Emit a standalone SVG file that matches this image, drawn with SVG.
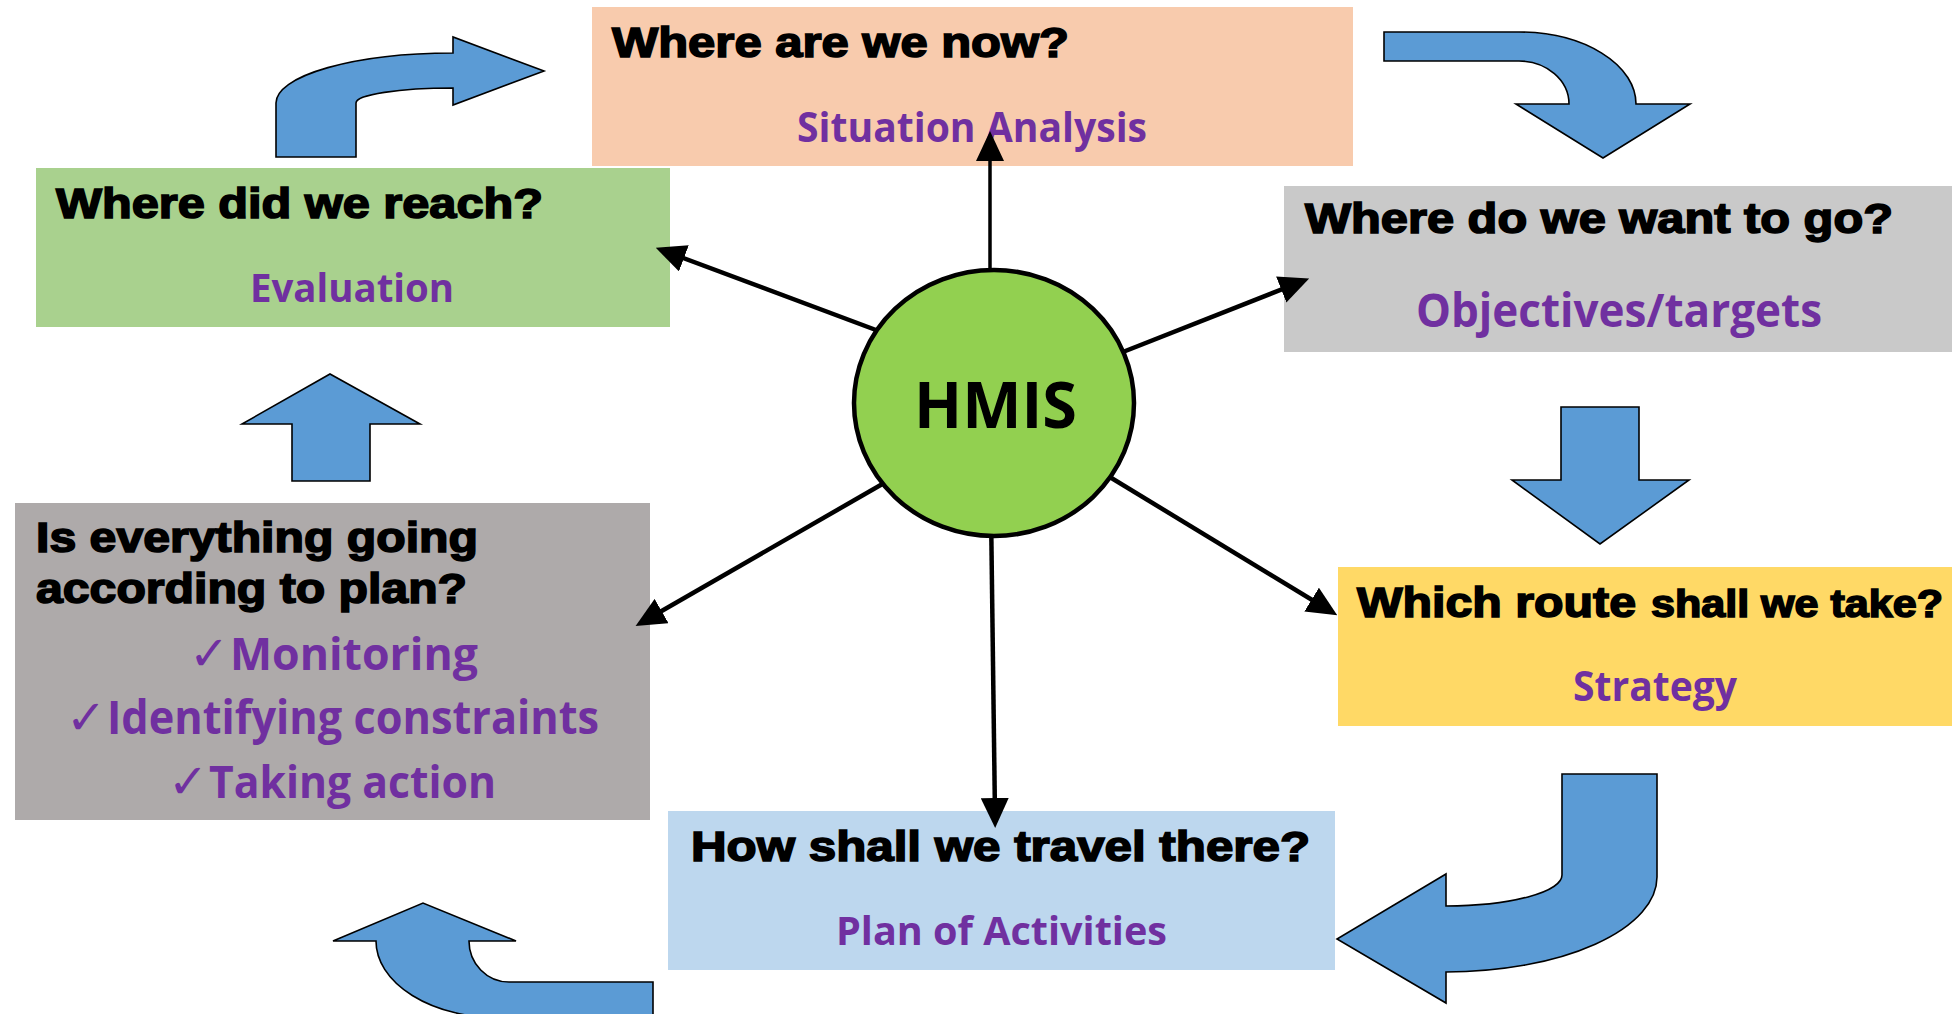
<svg xmlns="http://www.w3.org/2000/svg" width="1952" height="1014" viewBox="0 0 1952 1014">
<style>
.t{font-family:"Liberation Sans",Arial,sans-serif;font-weight:700;font-size:42px;fill:#000;stroke:#000;stroke-width:1.6}
.p{font-family:"Open Sans","Noto Sans",sans-serif;font-weight:700;fill:#7030A0}
.ck{font-family:"DejaVu Sans",sans-serif;font-weight:400;fill:#7030A0}
.blk{fill:#5B9BD5;stroke:#000;stroke-width:1.6;stroke-linejoin:miter}
.con{stroke:#000;stroke-width:4.5;fill:none;marker-end:url(#ah)}
</style>
<defs>
<marker id="ah" markerUnits="userSpaceOnUse" viewBox="0 0 30 28" refX="18" refY="14" markerWidth="30" markerHeight="28" orient="auto">
<path d="M0,0 L30,14 L0,28 Z" fill="#000"/>
</marker>
</defs>

<g id="flow-arrows">
<path class="blk" d="M276,157 V103 A177,50 0 0 1 453,53 V37 L544,71 L453,105 V88 A97,15 0 0 0 356,103 V157 Z"/>
<path class="blk" d="M1384,32 H1519 A117,72 0 0 1 1636,104 H1690 L1603,158 L1516,104 H1569 A50,43 0 0 0 1519,61 H1384 Z"/>
<path class="blk" d="M1561,407 H1639 V480 H1689 L1600,544 L1512,480 H1561 Z"/>
<path class="blk" d="M1562,774 H1657 V877 A211,95 0 0 1 1446,972 V1003 L1337,939 L1446,874 V906 A116,31 0 0 0 1562,875 Z"/>
<path class="blk" d="M653,1018 H500 A124,77 0 0 1 376,941 H333 L423,903 L516,941 H469 A40,41 0 0 0 509,982 H653 Z"/>
<path class="blk" d="M292,481 V424 H242 L330,374 L420,424 H370 V481 Z"/>
</g>

<g id="node-now">
<rect x="592" y="7" width="761" height="159" fill="#F8CBAD"/>
<text class="t" x="612" y="57" textLength="457" lengthAdjust="spacingAndGlyphs">Where are we now?</text>
<text class="p" x="797" y="142" font-size="42" textLength="350" lengthAdjust="spacingAndGlyphs">Situation Analysis</text>
</g>

<g id="node-reach">
<rect x="36" y="168" width="634" height="159" fill="#A9D18E"/>
<text class="t" x="56" y="218" textLength="487" lengthAdjust="spacingAndGlyphs">Where did we reach?</text>
<text class="p" x="250" y="302" font-size="40" textLength="204" lengthAdjust="spacingAndGlyphs">Evaluation</text>
</g>

<g id="node-go">
<rect x="1284" y="186" width="668" height="166" fill="#C9C9C9"/>
<text class="t" x="1305" y="233" textLength="588" lengthAdjust="spacingAndGlyphs">Where do we want to go?</text>
<text class="p" x="1416" y="327" font-size="47" textLength="406" lengthAdjust="spacingAndGlyphs">Objectives/targets</text>
</g>

<g id="node-route">
<rect x="1338" y="567" width="614" height="159" fill="#FFD966"/>
<text class="t" x="1357" y="617"><tspan textLength="279" lengthAdjust="spacingAndGlyphs">Which route</tspan><tspan x="1651" font-size="38" textLength="292" lengthAdjust="spacingAndGlyphs">shall we take?</tspan></text>
<text class="p" x="1573" y="701" font-size="42" textLength="164" lengthAdjust="spacingAndGlyphs">Strategy</text>
</g>

<g id="node-travel">
<rect x="668" y="811" width="667" height="159" fill="#BDD7EE"/>
<text class="t" x="691" y="861" textLength="619" lengthAdjust="spacingAndGlyphs">How shall we travel there?</text>
<text class="p" x="836" y="945" font-size="40" textLength="331" lengthAdjust="spacingAndGlyphs">Plan of Activities</text>
</g>

<g id="node-plan">
<rect x="15" y="503" width="635" height="317" fill="#AEAAAA"/>
<text class="t" x="36" y="552" textLength="442" lengthAdjust="spacingAndGlyphs">Is everything going</text>
<text class="t" x="36" y="603" textLength="431" lengthAdjust="spacingAndGlyphs">according to plan?</text>
<text class="p" y="670" font-size="45"><tspan class="ck" x="189" font-size="48">✓</tspan><tspan x="230" textLength="248" lengthAdjust="spacingAndGlyphs">Monitoring</tspan></text>
<text class="p" y="734" font-size="46"><tspan class="ck" x="66" font-size="48">✓</tspan><tspan x="107" textLength="492" lengthAdjust="spacingAndGlyphs">Identifying constraints</tspan></text>
<text class="p" y="798" font-size="45"><tspan class="ck" x="168" font-size="48">✓</tspan><tspan x="209" textLength="287" lengthAdjust="spacingAndGlyphs">Taking action</tspan></text>
</g>

<g id="connectors">
<line class="con" x1="990" y1="300" x2="990" y2="143" style="stroke-width:3.5"/>
<line class="con" x1="900" y1="339" x2="667" y2="252"/>
<line class="con" x1="1100" y1="361" x2="1298" y2="283"/>
<line class="con" x1="1090" y1="465" x2="1327" y2="609"/>
<line class="con" x1="991" y1="510" x2="995" y2="816"/>
<line class="con" x1="905" y1="471" x2="646" y2="620"/>
</g>

<g id="node-hmis">
<ellipse cx="994" cy="403" rx="140" ry="133" fill="#92D050" stroke="#000" stroke-width="4.5"/>
<text x="914" y="428" font-family="'Open Sans','Noto Sans',sans-serif" font-weight="700" font-size="64" fill="#000" textLength="163" lengthAdjust="spacingAndGlyphs">HMIS</text>
</g>
</svg>
